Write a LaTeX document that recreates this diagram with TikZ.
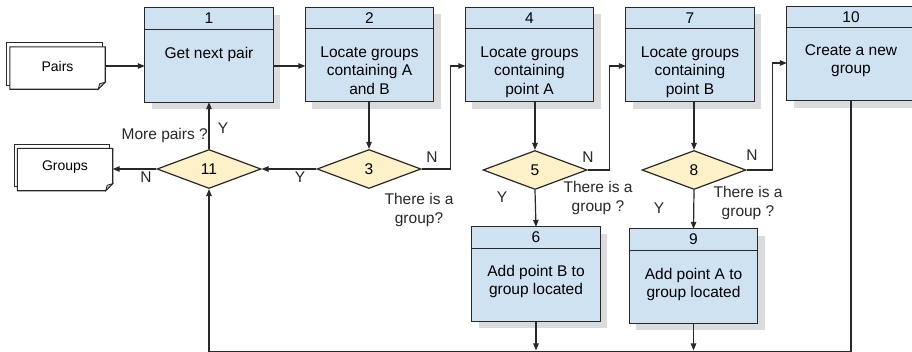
\documentclass[tikz,border=0pt]{standalone}
\usepackage{fontspec}
\setmainfont{Liberation Sans}
\usetikzlibrary{shapes.geometric,arrows.meta}

\definecolor{boxblue}{RGB}{207,226,242}
\definecolor{decyellow}{RGB}{253,241,199}
\definecolor{shadowgray}{RGB}{218,219,221}
\definecolor{inkline}{RGB}{40,40,40}
\definecolor{foldgray}{RGB}{190,190,190}

% process step: name, position, number, text, offset of the text below the top
\newcommand\flowstep[5]{%
  \node[procarea] (#1) at (#2) {};
  \fill[shadowgray] ([xshift=7pt,yshift=-7pt]#1.north west)
     rectangle ([xshift=7pt,yshift=-7pt]#1.south east);
  \draw[boxline, fill=boxblue] (#1.north west) rectangle (#1.south east);
  \draw[boxline] ([yshift=-21.5pt]#1.north west) -- ([yshift=-21.5pt]#1.north east);
  \node[inner sep=0pt] (#1-num) at ([yshift=-10.75pt]#1.north) {#3};
  \node[anchor=north, align=center, inner sep=0pt] (#1-txt)
       at ([yshift=-#5pt]#1.north) {#4};
}

% stack of documents: name, centre, label
\newcommand\docstack[3]{%
  \node[minimum width=98pt, minimum height=46pt, inner sep=0pt] (#1) at (#2) {};
  \draw[docline] (#1.north west) rectangle ([xshift=-3pt,yshift=4pt]#1.south east);
  \draw[docline] ([xshift=3pt,yshift=-4pt]#1.north west) -- ([yshift=-4pt]#1.north east)
     -- ([yshift=7pt]#1.south east) -- ([xshift=-7pt]#1.south east)
     -- ([xshift=3pt]#1.south west) -- cycle;
  \draw[docline, fill=foldgray, line width=0.8pt] ([yshift=7pt]#1.south east)
     -- ([xshift=-7pt]#1.south east) -- ([xshift=-5.5pt,yshift=5.5pt]#1.south east) -- cycle;
  \node[font=\fontsize{14}{17}\selectfont] (#1-lbl) at ([xshift=1.5pt]#1.center) {#3};
}

\begin{document}
\begin{tikzpicture}[x=1pt, y=-1pt,
  font=\fontsize{15.5}{18.5}\selectfont,
  boxline/.style={draw=inkline, line width=1.3pt},
  procarea/.style={minimum width=128pt, minimum height=94pt, inner sep=0pt},
  decision/.style={diamond, draw=inkline, line width=1.2pt, fill=decyellow,
    minimum width=104pt, minimum height=39pt, inner sep=0pt},
  docline/.style={draw=inkline, line width=1.1pt, fill=white},
  conn/.style={draw=inkline, line width=1.2pt},
  arr/.style={conn, -{Triangle[length=7pt,width=5.5pt]}},
  lbl/.style={inner sep=0pt, text=inkline},
  qlbl/.style={inner sep=0pt, align=center, text=inkline}]

\useasboundingbox (0,0) rectangle (912,351);

% documents
\docstack{pairs}{56,66}{Pairs}
\docstack{groups}{63.5,167.5}{Groups}

% process steps
\flowstep{b1}{209,55}{1}{Get next pair}{39.5}
\flowstep{b2}{369.5,54.5}{2}{Locate groups\\containing A\\and B}{39}
\flowstep{b4}{529.5,54.5}{4}{Locate groups\\containing\\point A}{39}
\flowstep{b7}{690,54.5}{7}{Locate groups\\containing\\point B}{39}
\flowstep{b10}{851,53.5}{10}{Create a new\\group}{38}
\flowstep{b6}{536,274}{6}{Add point B to\\group located}{38}
\flowstep{b9}{693.5,276}{9}{Add point A to\\group located}{39}

% decisions
\node[decision] (d11) at (209,169) {11};
\node[decision] (d3) at (369,169) {3};
\node[decision] (d5) at (535,170) {5};
\node[decision] (d8) at (694,170) {8};

% return line along the bottom
\coordinate (bus) at (0,351.9);

% connectors
\draw[arr] (pairs.east) -- (b1.west |- pairs);
\draw[arr] (b1.east |- pairs) -- (b2.west |- pairs);
\draw[arr] (d3.north |- b2.south) -- (d3.north);
\draw[arr] (d3.east) -- ++(29,0) |- (b4.west |- pairs);
\draw[arr] (d3.west) -- (d11.east);
\draw[arr] (d11.north) -- (b1.south);
\draw[arr] (d11.west) -- (groups.east |- d11.west);
\draw[arr] (d5.north |- b4.south) -- (d5.north);
\draw[arr] (d5.east) -- ++(22,0) |- (b7.west |- pairs);
\draw[arr] (d5.south) -- (b6.north);
\draw[arr] (d8.north |- b7.south) -- (d8.north);
\draw[arr] (d8.east) -- ++(26,0) |- ([yshift=-9.5pt]b10.west);
\draw[arr] (d8.south) -- (b9.north);
\draw[arr] (b6.south) -- ([yshift=1.5pt]b6.south |- bus);
\draw[arr] (b9.south) -- ([yshift=1.5pt]b9.south |- bus);
\draw[arr] (b10.south) -- (b10.south |- bus) -- (d11.south |- bus) -- (d11.south);

% answers and questions
\node[lbl] (y11) at (223,128) {Y};
\node[lbl, anchor=east] (q11) at (208,135) {More pairs ?};
\node[lbl] (n11) at (146,177) {N};
\node[lbl] (y3) at (300,177) {Y};
\node[lbl] (n3) at (432,157) {N};
\node[qlbl] (q3) at (419,210) {There is a\\group?};
\node[lbl] (n5) at (588,157) {N};
\node[lbl] (y5) at (502,197) {Y};
\node[qlbl] (q5) at (598,198) {There is a\\group ?};
\node[lbl] (n8) at (752,155) {N};
\node[lbl] (y8) at (659,208) {Y};
\node[qlbl] (q8) at (748,203) {There is a\\group ?};

\end{tikzpicture}
\end{document}
